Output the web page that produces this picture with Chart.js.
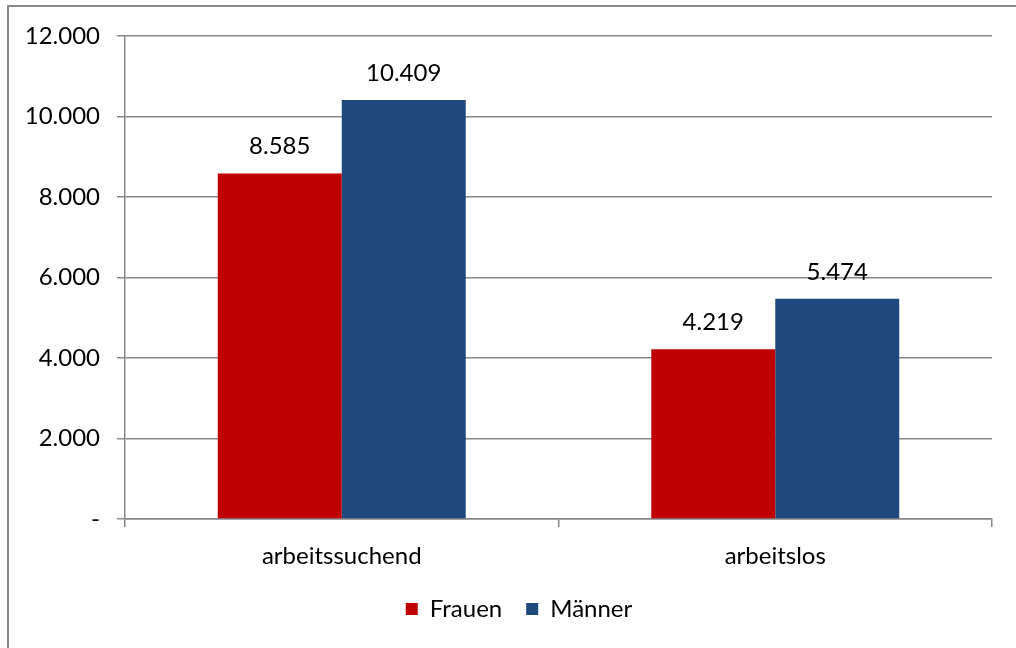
<!DOCTYPE html>
<html>
<head>
<meta charset="utf-8">
<script src="https://cdn.jsdelivr.net/npm/chart.js@4.4.1/dist/chart.umd.min.js"></script>
<style>
html,body{margin:0;padding:0;background:#fff}
#wrap{position:relative;width:1016px;height:648px}
#frame{position:absolute;left:7px;top:5px;right:0;bottom:0;border-top:2px solid #898989;border-left:2px solid #898989}
#chart{position:absolute;left:0;top:0}
</style>
</head>
<body>
<div id="wrap">
<div id="frame"></div>
<canvas id="chart" width="1016" height="648"></canvas>
</div>
<script>

const categories = ["arbeitssuchend","arbeitslos"]
const frauen = [8585,4219]
const maenner = [10409,5474]
const seriesNames = ["Frauen","Männer"]

const fontFamily = "Lato, 'Open Sans', sans-serif"
const fontSize = 24

function fmt(v){
if(v===0) return "-"
return v.toString().replace(/\B(?=(\d{3})+(?!\d))/g,".")
}

/* value labels above bars */
const barLabels = {
id:"barLabels",
afterDatasetsDraw(chart){
const ctx = chart.ctx
ctx.save()
ctx.font = fontSize + "px " + fontFamily
ctx.fillStyle = "#000"
ctx.textAlign = "center"
ctx.textBaseline = "alphabetic"
chart.data.datasets.forEach((ds,i)=>{
chart.getDatasetMeta(i).data.forEach((bar,j)=>{
ctx.fillText(fmt(ds.data[j]), bar.x, bar.y - 19)
})
})
ctx.restore()
}
}

new Chart(document.getElementById("chart"),{

type:"bar",

data:{
labels:categories,
datasets:[
{
label:seriesNames[0],
data:frauen,
backgroundColor:"#C00000",
categoryPercentage:0.572,
barPercentage:1
},
{
label:seriesNames[1],
data:maenner,
backgroundColor:"#1F497D",
categoryPercentage:0.572,
barPercentage:1
}
]
},

options:{
responsive:false,
animation:false,
layout:{padding:{left:46,right:24,top:36,bottom:17}},
plugins:{
legend:{
position:"bottom",
labels:{
boxWidth:12,
boxHeight:12,
padding:24,
color:"#000",
font:{family:fontFamily,size:fontSize}
}
},
tooltip:{enabled:false}
},
scales:{
x:{
grid:{
offset:true,
drawOnChartArea:false,
drawTicks:true,
tickLength:8,
color:"#868686",
lineWidth:1.5
},
border:{color:"#868686",width:1.5},
ticks:{
color:"#000",
padding:15,
font:{family:fontFamily,size:fontSize}
},
afterFit(scale){ scale.height = 54 }
},
y:{
min:0,
max:12000,
grid:{
color:"#868686",
lineWidth:1.5,
tickLength:8
},
border:{color:"#868686",width:1.5},
ticks:{
stepSize:2000,
color:"#000",
padding:17,
font:{family:fontFamily,size:fontSize},
callback:(v)=>fmt(v)
},
afterFit(scale){
scale.width = 79
// labels are wider than the axis box, don't clip them
scale._computeLabelArea = () => undefined
}
}
}
},

plugins:[barLabels]

})

</script>
</body>
</html>
